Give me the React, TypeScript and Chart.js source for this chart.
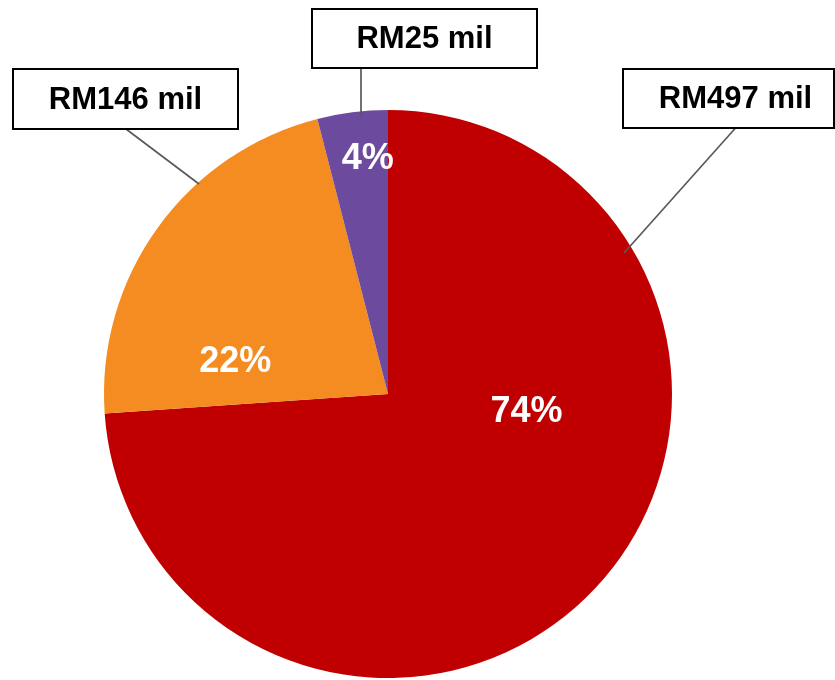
import React, { useEffect, useRef } from "react";
import { Chart, registerables } from "chart.js";

Chart.register(...registerables);

// Data
const categories = ["Red segment", "Orange segment", "Purple segment"];
const amountsRM = [497, 146, 25]; // RM mil, from the callout boxes
const sliceShares = [73.9, 22.1, 4.0]; // slice angles as drawn (%)
const sliceColors = ["#C00000", "#F58C21", "#6C4A9E"];

// Layout of annotations (relative to pie centre, in units of radius)
const pctPos = [
  { dx: 0.488, dy: 0.062 },
  { dx: -0.538, dy: -0.111 },
  { dx: -0.0715, dy: -0.826 },
];
// Callout boxes (absolute page px): box rect, text centre, leader line
const callouts = [
  { x0: 623, y0: 69, x1: 834, y1: 128, tx: 735.5, ty: 99.5, lx0: 735.5, ly0: 128, lx1: 624, ly1: 253 },
  { x0: 13, y0: 69, x1: 238, y1: 129, tx: 125.5, ty: 100, lx0: 126, ly0: 129, lx1: 199, ly1: 184 },
  { x0: 312, y0: 9, x1: 537, y1: 68, tx: 424.5, ty: 39.5, lx0: 361, ly0: 68, lx1: 361, ly1: 118 },
];

const FONT = '"Liberation Sans", Arial, sans-serif';

const labelPlugin = {
  id: "labelPlugin",
  afterDraw(chart: any) {
    const ctx = chart.ctx as CanvasRenderingContext2D;
    const meta = chart.getDatasetMeta(0);
    const total = amountsRM.reduce((a, b) => a + b, 0);
    ctx.save();
    // percentage labels
    meta.data.forEach((arc: any, i: number) => {
      const r = arc.outerRadius;
      const cx = arc.x + pctPos[i].dx * r;
      const cy = arc.y + pctPos[i].dy * r;
      ctx.fillStyle = "#FFFFFF";
      ctx.font = `bold 36px ${FONT}`;
      ctx.textAlign = "center";
      ctx.textBaseline = "middle";
      ctx.fillText(`${Math.round((amountsRM[i] / total) * 100)}%`, cx, cy);
    });
    // callouts
    callouts.forEach((c, i) => {
      ctx.strokeStyle = "#595959";
      ctx.lineWidth = 1.7;
      ctx.beginPath();
      ctx.moveTo(c.lx0, c.ly0);
      ctx.lineTo(c.lx1, c.ly1);
      ctx.stroke();
      ctx.fillStyle = "#FFFFFF";
      ctx.fillRect(c.x0, c.y0, c.x1 - c.x0, c.y1 - c.y0);
      ctx.strokeStyle = "#000000";
      ctx.lineWidth = 2;
      ctx.strokeRect(c.x0, c.y0, c.x1 - c.x0, c.y1 - c.y0);
      ctx.fillStyle = "#000000";
      ctx.font = `bold 31px ${FONT}`;
      ctx.textAlign = "center";
      ctx.textBaseline = "middle";
      ctx.fillText(`RM${amountsRM[i]} mil`, c.tx, c.ty);
    });
    ctx.restore();
  },
};

export default function App() {
  const ref = useRef<HTMLCanvasElement>(null);
  useEffect(() => {
    if (!ref.current) return;
    const chart = new Chart(ref.current, {
      type: "pie",
      data: {
        labels: categories,
        datasets: [
          {
            data: sliceShares,
            backgroundColor: sliceColors,
            borderWidth: 0,
          },
        ],
      },
      options: {
        responsive: false,
        animation: false,
        devicePixelRatio: 1,
        layout: { padding: { left: 104, right: 163, top: 110, bottom: 2 } },
        plugins: {
          legend: { display: false },
          tooltip: { enabled: false },
        },
      },
      plugins: [labelPlugin],
    });
    return () => chart.destroy();
  }, []);
  return (
    <div style={{ position: "fixed", left: 0, top: 0, width: 835, height: 680, background: "#fff" }}>
      <canvas ref={ref} width={835} height={680} style={{ display: "block" }} />
    </div>
  );
}
